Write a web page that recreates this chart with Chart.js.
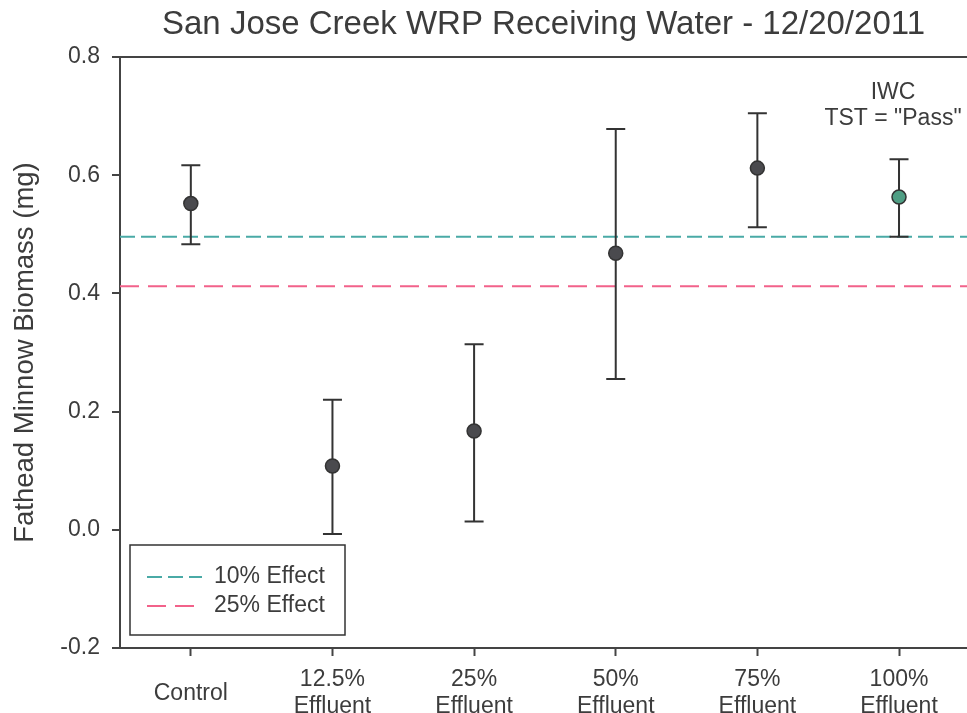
<!DOCTYPE html>
<html>
<head>
<meta charset="utf-8">
<script src="https://cdn.jsdelivr.net/npm/chart.js@4"></script>
<style>
  html, body { margin: 0; padding: 0; background: #fff; overflow: hidden; }
  #wrap { width: 967px; height: 713px; }
</style>
</head>
<body>
<div id="wrap"><canvas id="chart"></canvas></div>
<script>
const categories = [['Control'], ['12.5%', 'Effluent'], ['25%', 'Effluent'], ['50%', 'Effluent'], ['75%', 'Effluent'], ['100%', 'Effluent']];
const means = [0.552, 0.108, 0.167, 0.468, 0.612, 0.563];
const upper = [0.617, 0.220, 0.314, 0.678, 0.705, 0.627];
const lower = [0.483, -0.007, 0.014, 0.255, 0.512, 0.496];
const yTicks = [-0.2, 0.0, 0.2, 0.4, 0.6, 0.8];
const effect10 = 0.496;
const effect25 = 0.412;
const annotation = ['IWC', 'TST = "Pass"'];

const FONT = '"Liberation Sans", Arial, sans-serif';
const TEXT = '#3c3c3c';
const AXIS = '#444';
const xMin = -0.5, xMax = 5.48;

const pointColors = means.map((v, i) => i === 5 ? '#4f9e84' : '#4a4a4e');

// error bars go under the markers
const errorBars = {
  id: 'errorBars',
  beforeDatasetDraw(chart, args) {
    if (args.index !== 0) return;
    const { ctx, scales: { x, y } } = chart;
    ctx.save();
    ctx.strokeStyle = '#333';
    ctx.lineWidth = 2;
    means.forEach((m, i) => {
      const px = x.getPixelForValue(i);
      const top = y.getPixelForValue(upper[i]);
      const bot = y.getPixelForValue(lower[i]);
      ctx.beginPath();
      ctx.moveTo(px, top); ctx.lineTo(px, bot);
      ctx.moveTo(px - 9.5, top); ctx.lineTo(px + 9.5, top);
      ctx.moveTo(px - 9.5, bot); ctx.lineTo(px + 9.5, bot);
      ctx.stroke();
    });
    ctx.restore();
  }
};

// legend box in the lower left and the IWC note
const extras = {
  id: 'extras',
  afterDraw(chart) {
    const { ctx, scales: { x } } = chart;
    ctx.save();
    ctx.strokeStyle = '#333';
    ctx.lineWidth = 1.5;
    ctx.strokeRect(130, 545, 215, 90);
    ctx.font = '23px ' + FONT;
    ctx.fillStyle = TEXT;
    ctx.textBaseline = 'middle';
    [1, 2].forEach((di, k) => {
      const ds = chart.data.datasets[di];
      const yy = 577 + k * 29;
      ctx.strokeStyle = ds.borderColor;
      ctx.lineWidth = 2;
      ctx.setLineDash(ds.borderDash);
      ctx.beginPath();
      ctx.moveTo(147, yy); ctx.lineTo(202, yy);
      ctx.stroke();
      ctx.setLineDash([]);
      ctx.fillText(ds.label, 214, yy);
    });
    ctx.textAlign = 'center';
    const ax = x.getPixelForValue(5) - 6;
    ctx.fillText(annotation[0], ax, 93);
    ctx.fillText(annotation[1], ax, 119);
    ctx.restore();
  }
};

new Chart(document.getElementById('chart'), {
  type: 'scatter',
  data: {
    datasets: [
      {
        label: 'Mean',
        data: means.map((v, i) => ({ x: i, y: v })),
        pointRadius: 7,
        pointHoverRadius: 7,
        backgroundColor: pointColors,
        borderColor: '#333',
        borderWidth: 1.5,
        order: 0
      },
      {
        label: '10% Effect',
        data: [{ x: xMin, y: effect10 }, { x: xMax, y: effect10 }],
        showLine: true,
        pointRadius: 0,
        borderColor: '#4aaaa6',
        borderWidth: 2,
        borderDash: [15, 6],
        order: 1
      },
      {
        label: '25% Effect',
        data: [{ x: xMin, y: effect25 }, { x: xMax, y: effect25 }],
        showLine: true,
        pointRadius: 0,
        borderColor: '#f2628a',
        borderWidth: 2,
        borderDash: [19, 9],
        order: 2
      }
    ]
  },
  options: {
    responsive: true,
    maintainAspectRatio: false,
    animation: false,
    layout: { padding: 0, autoPadding: false },
    plugins: {
      legend: { display: false },
      tooltip: { enabled: false },
      title: {
        display: true,
        fullSize: false,
        text: 'San Jose Creek WRP Receiving Water - 12/20/2011',
        color: TEXT,
        font: { family: FONT, size: 33, weight: 'normal', lineHeight: 1.2 },
        padding: { top: 5, bottom: 12.4 }
      }
    },
    scales: {
      x: {
        type: 'linear',
        min: xMin,
        max: xMax,
        afterBuildTicks: s => { s.ticks = categories.map((c, i) => ({ value: i })); },
        afterFit: s => { s.height = 65; },
        grid: { drawOnChartArea: false, tickLength: 8, tickColor: AXIS, tickWidth: 2 },
        border: { color: AXIS, width: 2 },
        ticks: {
          callback: v => categories[v],
          color: TEXT,
          font: { family: FONT, size: 23, lineHeight: 1.17 },
          padding: 24,
          crossAlign: 'center',
          maxRotation: 0,
          autoSkip: false
        }
      },
      y: {
        min: -0.2,
        max: 0.8,
        afterBuildTicks: s => { s.ticks = yTicks.map(v => ({ value: v })); },
        afterFit: s => { s.width = 120; },
        grid: {
          drawOnChartArea: true,
          color: c => (c.tick && c.tick.value === 0.8) ? AXIS : 'rgba(0,0,0,0)',
          lineWidth: 2,
          tickLength: 8,
          tickColor: AXIS,
          tickWidth: 2
        },
        border: { color: AXIS, width: 2 },
        ticks: {
          callback: v => v.toFixed(1),
          color: TEXT,
          font: { family: FONT, size: 23 },
          padding: 12
        },
        title: {
          display: true,
          text: 'Fathead Minnow Biomass (mg)',
          color: TEXT,
          font: { family: FONT, size: 27.5, lineHeight: 1.2 },
          padding: { top: 9, bottom: 0 }
        }
      }
    }
  },
  plugins: [errorBars, extras]
});
</script>
</body>
</html>
